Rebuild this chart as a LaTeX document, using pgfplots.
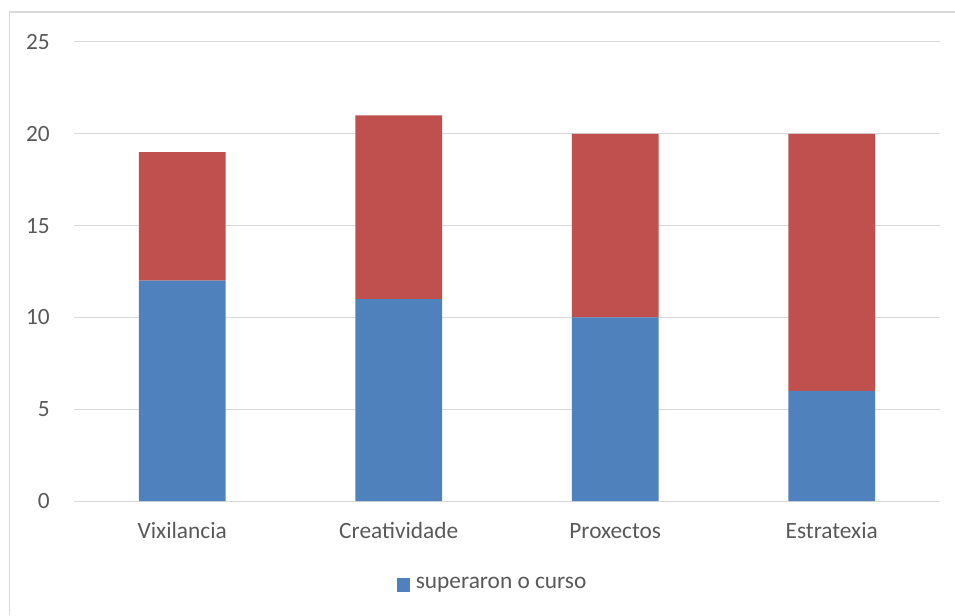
\documentclass[border=0pt]{standalone}
\usepackage{pgfplots}
\pgfplotsset{compat=1.18}
\usepackage{fontspec}
\setmainfont{Carlito}
\definecolor{gridgray}{HTML}{D9D9D9}
\definecolor{txtgray}{HTML}{595959}
\definecolor{barblue}{HTML}{4F81BD}
\definecolor{barred}{HTML}{C0504D}

\begin{document}
\fontsize{17.5}{21}\selectfont
\begin{tikzpicture}
\useasboundingbox (0,0) rectangle (716.25pt,461.25pt);
\draw[gridgray, line width=1.1pt] (7.1pt,0) -- (7.1pt,452.25pt) -- (716.25pt,452.25pt);
\begin{axis}[
  at={(55.5pt,85.5pt)}, anchor=south west,
  scale only axis,
  width=649.5pt, height=344.25pt,
  xmin=-0.5, xmax=3.5,
  ymin=0, ymax=25,
  ytick={0,5,10,15,20,25},
  xtick={0,1,2,3},
  xticklabels={Vixilancia,Creatividade,Proxectos,Estratexia},
  ymajorgrids,
  grid style={gridgray, line width=0.75pt},
  axis line style={draw=none},
  tick style={draw=none},
  ticklabel style={font=\fontsize{17.5}{21}\selectfont, text=txtgray},
  /pgf/number format/assume math mode=true,
  yticklabel style={anchor=east, inner sep=0pt, xshift=-18pt},
  xticklabel style={anchor=north, inner sep=0pt, yshift=-15pt,
    text height=13pt, text depth=4pt},
  ybar stacked,
  bar width=0.4,
  legend entries={superaron o curso},
  legend style={at={(0.484,-0.183)}, anchor=center, draw=none,
    font=\fontsize{17.5}{21}\selectfont, text=txtgray,
    inner sep=0pt},
  legend image code/.code={\fill[#1] (0pt,-4.9pt) rectangle (9.8pt,4.9pt);
    \path (12pt,0pt);},
]
\addplot[fill=barblue, draw=none] coordinates {(0,12) (1,11) (2,10) (3,6)};
\addplot[fill=barred, draw=none] coordinates {(0,7) (1,10) (2,10) (3,14)};
\end{axis}
\end{tikzpicture}
\end{document}
